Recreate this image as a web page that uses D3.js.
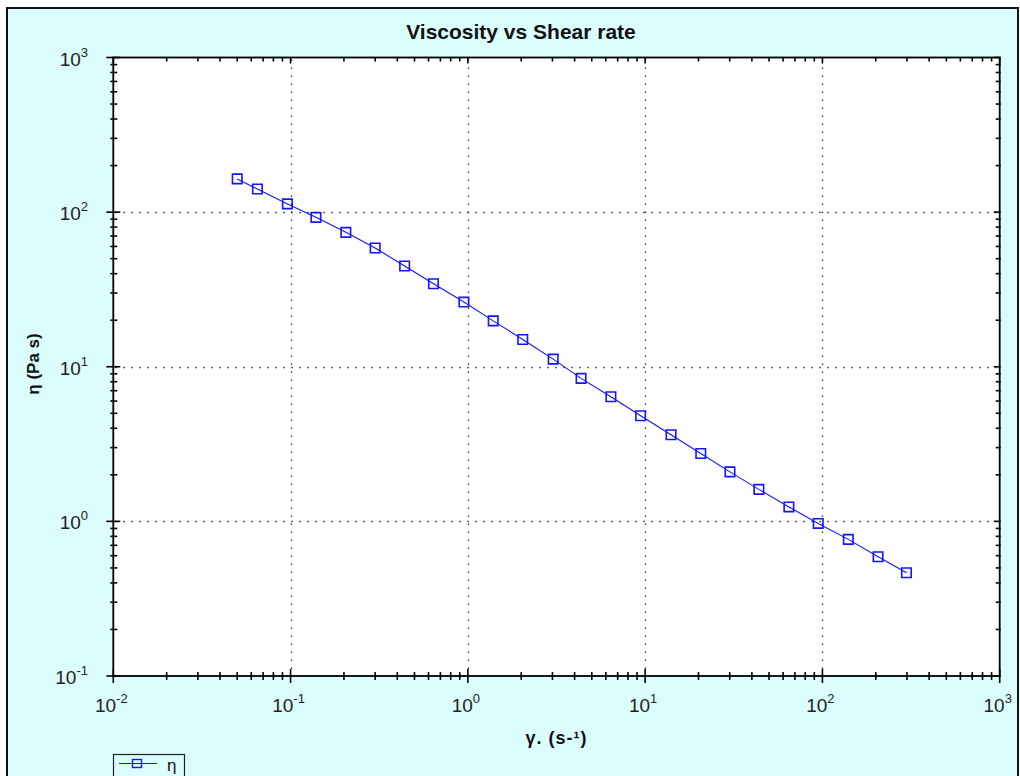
<!DOCTYPE html>
<html>
<head>
<meta charset="utf-8">
<script src="https://cdn.jsdelivr.net/npm/d3@7"></script>
<style>
  html, body { margin: 0; padding: 0; background: #ffffff; }
  svg { display: block; }
  text { font-family: "Liberation Sans", Arial, sans-serif; }
</style>
</head>
<body>
<svg id="chart" width="1020" height="776"></svg>
<script>
// Shear rate (1/s) and viscosity (Pa s) of the flow curve
const shearRate = [0.05, 0.065, 0.096, 0.139, 0.205, 0.30, 0.44, 0.64, 0.95, 1.39, 2.04, 3.03,
                   4.35, 6.41, 9.43, 14.0, 20.6, 30.1, 43.8, 64.7, 94.7, 140, 206, 298];
const viscosity = [164, 141, 113, 92.5, 74.0, 58.6, 44.8, 34.4, 26.2, 19.8, 15.0, 11.2,
                   8.41, 6.40, 4.82, 3.63, 2.75, 2.09, 1.61, 1.24, 0.97, 0.765, 0.59, 0.465];
const xDecades = [-2, -1, 0, 1, 2, 3];
const yDecades = [-1, 0, 1, 2, 3];
const titleText = "Viscosity vs Shear rate";
const xLabel = "γ. (s-¹)";
const yLabel = "η (Pa s)";
const seriesName = "η";

const svg = d3.select("#chart");
const plot = { left: 113.3, right: 999.7, top: 57.5, bottom: 676 };

// outer panel
svg.append("rect")
  .attr("x", 7).attr("y", 8).attr("width", 1011).attr("height", 790)
  .attr("fill", "#dcfdfd").attr("stroke", "#111").attr("stroke-width", 2);

const x = d3.scaleLog().domain([1e-2, 1e3]).range([plot.left, plot.right]);
const y = d3.scaleLog().domain([1e-1, 1e3]).range([plot.bottom, plot.top]);

// plot area
svg.append("rect")
  .attr("x", plot.left).attr("y", plot.top)
  .attr("width", plot.right - plot.left).attr("height", plot.bottom - plot.top)
  .attr("fill", "#ffffff");

// dotted grid at the decades
const grid = svg.append("g").attr("stroke", "#333").attr("stroke-width", 1.3)
  .attr("stroke-dasharray", "1.5,6.5");
grid.selectAll("line.gx").data(xDecades.slice(1, -1)).join("line")
  .attr("x1", d => Math.round(x(Math.pow(10, d))) + 0.5)
  .attr("x2", d => Math.round(x(Math.pow(10, d))) + 0.5)
  .attr("y1", plot.top + 2).attr("y2", plot.bottom);
grid.selectAll("line.gy").data(yDecades.slice(1, -1)).join("line")
  .attr("y1", d => Math.round(y(Math.pow(10, d))) + 0.5)
  .attr("y2", d => Math.round(y(Math.pow(10, d))) + 0.5)
  .attr("x1", plot.left + 2).attr("x2", plot.right);

// tick positions (majors and minors) built from the scale ticks
const xTicks = x.ticks();
const yTicks = y.ticks();
const isMajor = v => Math.abs(Math.log10(v) - Math.round(Math.log10(v))) < 1e-9;

const ax = svg.append("g").attr("stroke", "#000").attr("stroke-width", 1.6);

// bottom axis: ticks cross the line
ax.selectAll("line.tb").data(xTicks).join("line")
  .attr("x1", d => x(d)).attr("x2", d => x(d))
  .attr("y1", d => plot.bottom - (isMajor(d) ? 7 : 4))
  .attr("y2", d => plot.bottom + (isMajor(d) ? 7 : 4));
// top axis: ticks inward
ax.selectAll("line.tt").data(xTicks).join("line")
  .attr("x1", d => x(d)).attr("x2", d => x(d))
  .attr("y1", plot.top).attr("y2", d => plot.top + (isMajor(d) ? 6 : 4));
// left axis: ticks cross the line
ax.selectAll("line.tl").data(yTicks).join("line")
  .attr("y1", d => y(d)).attr("y2", d => y(d))
  .attr("x1", d => plot.left - (isMajor(d) ? 7 : 3))
  .attr("x2", d => plot.left + (isMajor(d) ? 7 : 4));
// right axis: ticks inward
ax.selectAll("line.tr").data(yTicks).join("line")
  .attr("y1", d => y(d)).attr("y2", d => y(d))
  .attr("x1", d => plot.right - (isMajor(d) ? 6 : 4))
  .attr("x2", d => plot.right + 1);

// axis frame
svg.append("rect")
  .attr("x", plot.left).attr("y", plot.top)
  .attr("width", plot.right - plot.left).attr("height", plot.bottom - plot.top)
  .attr("fill", "none").attr("stroke", "#000").attr("stroke-width", 1.8);

// power-of-ten labels
function powerLabel(exp) {
  const t = svg.append("text").attr("fill", "#222").attr("font-size", 19);
  t.append("tspan").text("10");
  t.append("tspan").attr("font-size", 13).attr("dy", -9).text(exp);
  return t;
}
xDecades.forEach(e => {
  const t = powerLabel(e);
  const w = t.node().getComputedTextLength();
  t.attr("x", x(Math.pow(10, e)) - w / 2 - 2).attr("y", 712);
});
yDecades.forEach(e => {
  const t = powerLabel(e);
  const w = t.node().getComputedTextLength();
  t.attr("x", 88 - w).attr("y", y(Math.pow(10, e)) + 8);
});

// titles
svg.append("text")
  .attr("x", 521).attr("y", 39).attr("text-anchor", "middle")
  .attr("font-size", 21).attr("font-weight", "bold").attr("fill", "#111")
  .text(titleText);
svg.append("text")
  .attr("x", (plot.left + plot.right) / 2).attr("y", 744).attr("text-anchor", "middle")
  .attr("font-size", 18).attr("font-weight", "bold").attr("fill", "#111")
  .attr("letter-spacing", 1)
  .text(xLabel);
svg.append("text")
  .attr("transform", "translate(39,364) rotate(-90)").attr("text-anchor", "middle")
  .attr("font-size", 17).attr("font-weight", "bold").attr("fill", "#111")
  .text(yLabel);

// series
const pts = shearRate.map((v, i) => [v, viscosity[i]]);
const blue = "#1414ff";
svg.append("path")
  .datum(pts)
  .attr("fill", "none").attr("stroke", blue).attr("stroke-width", 1.1)
  .attr("d", d3.line().x(d => x(d[0])).y(d => y(d[1])));
const sym = d3.symbol().type(d3.symbolSquare).size(90);
svg.append("g").selectAll("path").data(pts).join("path")
  .attr("transform", d => `translate(${x(d[0])},${y(d[1])})`)
  .attr("d", sym)
  .attr("fill", "none").attr("stroke", blue).attr("stroke-width", 1.6);

// legend
const lg = svg.append("g");
lg.append("rect").attr("x", 113.5).attr("y", 754.5).attr("width", 71).attr("height", 30)
  .attr("fill", "none").attr("stroke", "#222").attr("stroke-width", 1.2);
lg.append("line").attr("x1", 119).attr("x2", 157).attr("y1", 763.5).attr("y2", 763.5)
  .attr("stroke", blue).attr("stroke-width", 1.2);
lg.append("rect").attr("x", 132.5).attr("y", 759.5).attr("width", 9).attr("height", 8)
  .attr("fill", "none").attr("stroke", blue).attr("stroke-width", 1.4);
lg.append("text").attr("x", 167).attr("y", 771).attr("font-size", 17).attr("fill", "#111")
  .text(seriesName);
</script>
</body>
</html>
